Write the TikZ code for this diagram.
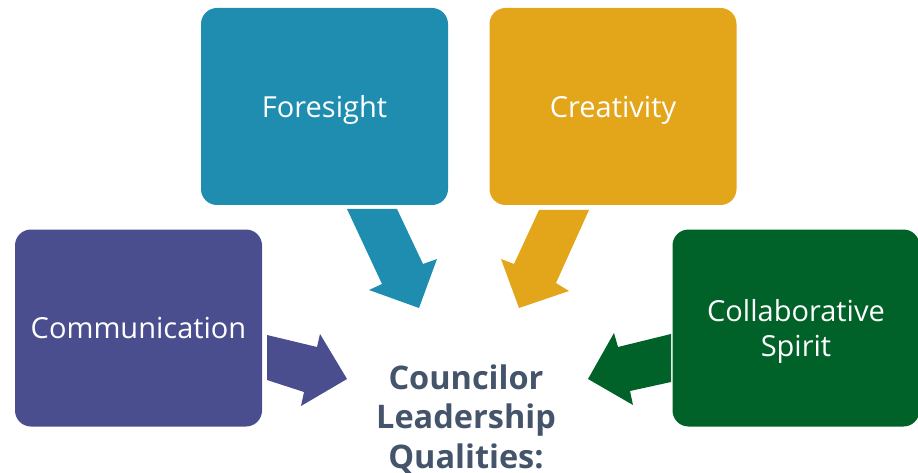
\documentclass[tikz,border=0pt]{standalone}
\usepackage{fontspec}
\setmainfont{Open Sans}
\definecolor{cBlue}{HTML}{1F8DB0}
\definecolor{cGold}{HTML}{E3A51A}
\definecolor{cPurple}{HTML}{4A4E8E}
\definecolor{cGreen}{HTML}{006229}
\definecolor{cText}{HTML}{44546A}
\begin{document}
\begin{tikzpicture}[x=1pt,y=-1pt,
  box/.style={draw=none, rounded corners=16pt, minimum width=247pt, minimum height=197pt,
    inner sep=0pt, text=white, align=center, text depth=0pt, font=\fontsize{29}{35}\selectfont}]
\useasboundingbox (0,0) rectangle (918,473);
\node[box, fill=cBlue]   (fore)   at (324.5,106.5) {Foresight};
\node[box, fill=cGold]   (crea)   at (613,106.5)   {Creativity};
\node[box, fill=cPurple] (comm)   at (138.5,328)   {Communication};
\node[box, fill=cGreen]  (collab) at (796,328)     {Collaborative\\Spirit};
\node[align=center, text=cText, font=\bfseries\fontsize{32.5}{39.5}\selectfont] (center) at (466,419)
  {Councilor\\Leadership\\Qualities:};
% block arrows
\fill[cBlue]   (347,209) -- (397,209) -- (423,264) -- (437,259) -- (419,308) -- (369,290) -- (382,284) -- cycle;
\fill[cGold]   (539,210) -- (589,210) -- (556,283) -- (569,291) -- (519,308) -- (501,259) -- (514,264) -- cycle;
\fill[cPurple] (267,335) -- (317,347) -- (320,334) -- (347,379) -- (301,406) -- (304,392) -- (267,380) -- cycle;
\fill[cGreen]  (671,334) -- (618,347) -- (614,333) -- (588,379) -- (633,405) -- (630,391) -- (671,382) -- cycle;
\end{tikzpicture}
\end{document}
